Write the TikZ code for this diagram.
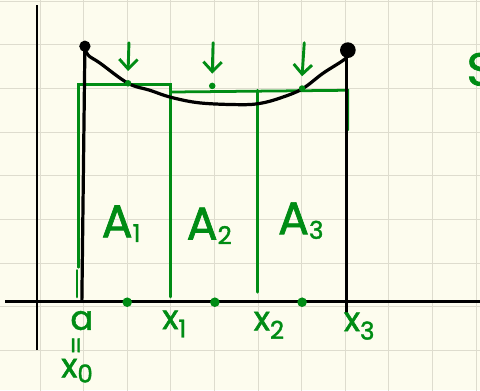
\documentclass[tikz,border=0pt]{standalone}
\usepackage{fontspec}
\setmainfont{Poppins}[FakeBold=1.6]
\usetikzlibrary{arrows.meta}
\definecolor{pen}{RGB}{0,140,20}
\definecolor{paper}{RGB}{253,252,238}
\definecolor{rulecol}{RGB}{222,220,206}
\newcommand{\idx}[2][-0.25em]{\raisebox{#1}{\fontsize{16}{16}\selectfont #2}}
\tikzset{curve/.style={line width=2.1pt,black,line cap=round,line join=round},
         axis/.style={line width=1.6pt,black},
         strip/.style={line width=1.8pt,pen,line cap=round},
         hint/.style={-{Straight Barb[length=2.2mm,width=4.2mm]},line width=1.9pt,pen,line cap=round},
         dot/.style={circle,fill,inner sep=0pt,minimum size=#1},
         lbl/.style={pen,font=\fontsize{22}{22}\selectfont,inner sep=0pt},
         big/.style={pen,font=\fontsize{30}{30}\selectfont,inner sep=0pt}}

\begin{document}
\begin{tikzpicture}
  \useasboundingbox (-0.917,-0.917) rectangle (10.09,8.03);
  \clip (-0.917,-0.917) rectangle (10.09,8.03);
  \fill[paper] (-0.917,-0.917) rectangle (10.09,8.03);
  \draw[rulecol,line width=.6pt] (-1,-1) grid (11,9);
  % axes
  \coordinate (ytop) at (-0.07,7.91);
  \coordinate (ybot) at (-0.07,0);
  \coordinate (xl) at (-0.8,1.12);
  \coordinate (xr) at (10.2,1.12);
  \draw[axis] (ybot) -- (ytop);
  \draw[axis] (xl) -- (xr);
  % green strips
  \draw[strip] (0.89,1.90) -- (0.89,6.10) -- (3.0,6.10) -- (3.0,1.22);
  \draw[strip] (0.85,1.83) -- (0.85,1.22);
  \draw[strip] (3.0,5.92) -- (7.06,5.96) -- (7.06,5.05);
  \draw[strip] (4.98,5.96) -- (4.98,1.33);
  % curve
  \node[dot=0.26cm] (start) at (1.03,6.97) {};
  \node[dot=0.36cm] (stop) at (7.06,6.88) {};
  \coordinate (abot) at (0.96,1.12);
  \coordinate (cbot) at (7.02,0.85);
  \draw[curve] (start.center) -- (abot);
  \draw[curve] (7.02,6.70) -- (cbot);
  \draw[curve] plot[smooth,tension=.6] coordinates {(1.03,6.97) (1.10,6.77) (1.38,6.58)
    (2.02,6.12) (2.52,5.96) (3.0,5.80) (3.67,5.67) (4.59,5.63) (5.05,5.66) (5.50,5.78)
    (6.01,5.99) (6.49,6.35) (7.02,6.70) (7.06,6.88)};
  % midpoints
  \foreach \x/\y/\t [count=\i] in {2.02/6.12/2.04,3.95/6.06/3.97,6.01/6.0/6.06} {
    \node[dot=0.15cm,pen] (m\i) at (\x,\y) {};
    \coordinate (h\i) at (\t,7.05);
    \draw[hint] (h\i) -- ([yshift=0.2cm]m\i.north);
  }
  \node[dot=0.22cm,pen] (p1) at (2.0,1.10) {};
  \node[dot=0.22cm,pen] (p2) at (4.01,1.10) {};
  \node[dot=0.22cm,pen] (p3) at (6.01,1.10) {};
  % labels
  \node[big] (A1) at (1.86,2.90) {A\idx[-0.1em]{1}};
  \node[big] (A2) at (3.88,2.85) {A\idx[-0.1em]{2}};
  \node[big] (A3) at (5.98,2.97) {A\idx[-0.1em]{3}};
  \node[lbl] (a) at (0.96,0.68) {a};
  \node[lbl,rotate=90,font=\fontsize{17}{17}\selectfont] (eq) at (0.89,0.11) {=};
  \node[lbl] (x0) at (0.85,-0.47) {x\idx[-0.15em]{0}};
  \node[lbl] (x1) at (3.08,0.60) {x\idx{1}};
  \node[lbl] (x2) at (5.25,0.57) {x\idx{2}};
  \node[lbl] (x3) at (7.32,0.55) {x\idx{3}};
  \node[big,anchor=west] (s) at (9.78,6.44) {S};
\end{tikzpicture}
\end{document}
